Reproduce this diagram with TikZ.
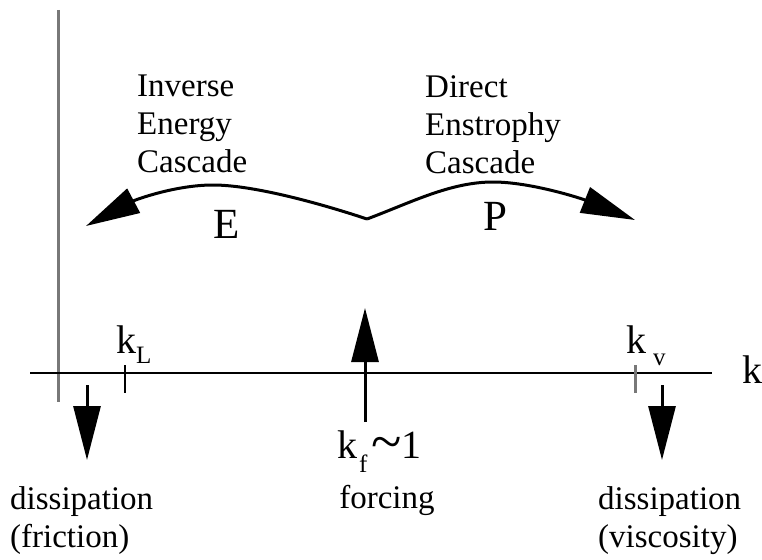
\documentclass[tikz,border=0pt]{standalone}
\usepackage{fontspec}
\setmainfont{Liberation Serif}
\usetikzlibrary{arrows.meta}

% tiefgestellter Index: \unten{Absenkung}{Text}
\newcommand{\unten}[2]{\raisebox{-#1}{\fontsize{25}{25}\selectfont #2}}

\begin{document}
\begin{tikzpicture}[x=1pt, y=-1pt,
    pfeil/.style={line width=3pt, -{Triangle[length=54pt, width=27pt]}},
    wort/.style={inner sep=0pt, align=left, font=\fontsize{33}{38}\selectfont},
    gross/.style={inner sep=0pt, font=\fontsize{43}{50}\selectfont},
    kwert/.style={inner sep=0pt, font=\fontsize{40}{46}\selectfont},
  ]
  \definecolor{achsgrau}{RGB}{120,120,120}
  \useasboundingbox (0,0) rectangle (762,559);

  % ---------------- Achsen -------------------------------------------
  \draw[achsgrau, line width=3pt] (58,10) -- (58,402);
  \coordinate (achseA) at (30,373);
  \coordinate (achseB) at (712,373);
  \draw[line width=2pt] (achseA) -- (achseB);
  \node[kwert, anchor=base] (k) at (752,383) {k};

  % Marken k_L und k_nu
  \draw[line width=1.8pt] (125,365) -- (125,393);
  \draw[achsgrau, line width=3pt] (635,365) -- (635,393);
  \node[kwert, anchor=base west] (kL) at (116,353) {k\unten{10pt}{L}};
  \node[kwert, anchor=base west] (kv) at (626,353) {k\hspace{7pt}\unten{12pt}{v}};

  % ---------------- Kaskaden ----------------------------------------
  \coordinate (mitte) at (367,219);
  \coordinate (links) at (86,226);
  \coordinate (rechts) at (635,220);
  \draw[pfeil] (mitte) .. controls (325,205) and (255,185) .. (213,185)
    .. controls (175,185) and (135,200) .. (links);
  \draw[pfeil] (mitte) .. controls (410,203) and (450,182) .. (493,182)
    .. controls (530,182) and (580,198) .. (rechts);
  \node[wort, anchor=north west] (invers) at (137,75) {Inverse\\Energy\\Cascade};
  \node[wort, anchor=north west] (direkt) at (425,75) {Direct\\Enstrophy\\Cascade};
  \node[gross, anchor=base] (E) at (227,238) {E};
  \node[gross, anchor=base] (P) at (495,230) {P};

  % ---------------- Antrieb und Dissipation -------------------------
  \coordinate (antriebA) at (365,422);
  \coordinate (antriebB) at (365,308);
  \draw[pfeil] (antriebA) -- (antriebB);
  \node[kwert, anchor=base west] (kf) at (337,458)
    {k\hspace{2pt}\unten{14pt}{f}\hspace{4pt}\raisebox{-2pt}{\scalebox{1.4}{\textasciitilde}}1};
  \node[wort, anchor=base] (forcing) at (387,508) {forcing};

  \coordinate (reibA) at (87,385);
  \coordinate (reibB) at (87,460);
  \draw[pfeil] (reibA) -- (reibB);
  \node[wort, anchor=north west] (reibung) at (10,486) {dissipation\\(friction)};

  \coordinate (viskA) at (662,385);
  \coordinate (viskB) at (662,460);
  \draw[pfeil] (viskA) -- (viskB);
  \node[wort, anchor=north west] (viskos) at (598,486) {dissipation\\(viscosity)};
\end{tikzpicture}
\end{document}
